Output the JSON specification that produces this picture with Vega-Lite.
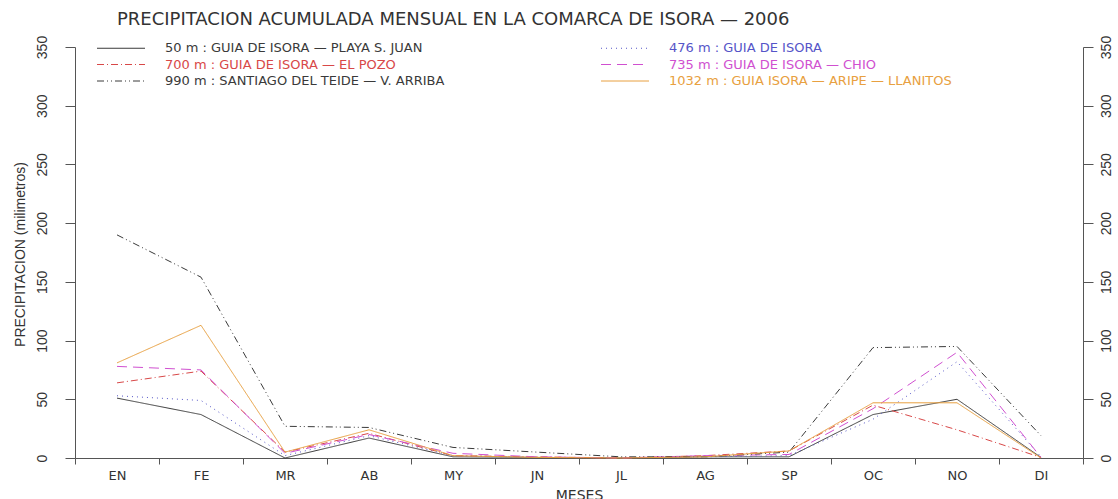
{
  "$schema": "https://vega.github.io/schema/vega-lite/v6.json",
  "autosize": "none",
  "width": 1008,
  "height": 411,
  "padding": {"left": 75, "top": 47, "right": 35, "bottom": 41},
  "background": "white",
  "title": {
    "text": "PRECIPITACION ACUMULADA MENSUAL EN LA COMARCA DE ISORA — 2006",
    "anchor": "start",
    "frame": "group",
    "dx": 42,
    "offset": -8,
    "baseline": "alphabetic",
    "font": "DejaVu Sans",
    "fontSize": 18,
    "fontWeight": "normal",
    "color": "#333333"
  },
  "config": {
    "view": {"stroke": null},
    "axis": {"grid": false, "domainColor": "#555555", "tickColor": "#555555", "labelColor": "#333333", "titleColor": "#333333", "titleFontWeight": "normal"}
  },
  "data": {
    "values": [
      {"mes": "EN", "serie": "s50", "valor": 51},
      {"mes": "FE", "serie": "s50", "valor": 37},
      {"mes": "MR", "serie": "s50", "valor": 0},
      {"mes": "AB", "serie": "s50", "valor": 17},
      {"mes": "MY", "serie": "s50", "valor": 1},
      {"mes": "JN", "serie": "s50", "valor": 0.5},
      {"mes": "JL", "serie": "s50", "valor": 0},
      {"mes": "AG", "serie": "s50", "valor": 1},
      {"mes": "SP", "serie": "s50", "valor": 1},
      {"mes": "OC", "serie": "s50", "valor": 37},
      {"mes": "NO", "serie": "s50", "valor": 50},
      {"mes": "DI", "serie": "s50", "valor": 0.5},
      {"mes": "EN", "serie": "s476", "valor": 53},
      {"mes": "FE", "serie": "s476", "valor": 49},
      {"mes": "MR", "serie": "s476", "valor": 2},
      {"mes": "AB", "serie": "s476", "valor": 19},
      {"mes": "MY", "serie": "s476", "valor": 2},
      {"mes": "JN", "serie": "s476", "valor": 0.5},
      {"mes": "JL", "serie": "s476", "valor": 0},
      {"mes": "AG", "serie": "s476", "valor": 1},
      {"mes": "SP", "serie": "s476", "valor": 2},
      {"mes": "OC", "serie": "s476", "valor": 33},
      {"mes": "NO", "serie": "s476", "valor": 82},
      {"mes": "DI", "serie": "s476", "valor": 1},
      {"mes": "EN", "serie": "s700", "valor": 64},
      {"mes": "FE", "serie": "s700", "valor": 74},
      {"mes": "MR", "serie": "s700", "valor": 5},
      {"mes": "AB", "serie": "s700", "valor": 21},
      {"mes": "MY", "serie": "s700", "valor": 2},
      {"mes": "JN", "serie": "s700", "valor": 1},
      {"mes": "JL", "serie": "s700", "valor": 0},
      {"mes": "AG", "serie": "s700", "valor": 2},
      {"mes": "SP", "serie": "s700", "valor": 6},
      {"mes": "OC", "serie": "s700", "valor": 45},
      {"mes": "NO", "serie": "s700", "valor": 24},
      {"mes": "DI", "serie": "s700", "valor": 0.5},
      {"mes": "EN", "serie": "s735", "valor": 78},
      {"mes": "FE", "serie": "s735", "valor": 75},
      {"mes": "MR", "serie": "s735", "valor": 4},
      {"mes": "AB", "serie": "s735", "valor": 20},
      {"mes": "MY", "serie": "s735", "valor": 4},
      {"mes": "JN", "serie": "s735", "valor": 1},
      {"mes": "JL", "serie": "s735", "valor": 0},
      {"mes": "AG", "serie": "s735", "valor": 2},
      {"mes": "SP", "serie": "s735", "valor": 3},
      {"mes": "OC", "serie": "s735", "valor": 42},
      {"mes": "NO", "serie": "s735", "valor": 90},
      {"mes": "DI", "serie": "s735", "valor": 0.5},
      {"mes": "EN", "serie": "s990", "valor": 190},
      {"mes": "FE", "serie": "s990", "valor": 154},
      {"mes": "MR", "serie": "s990", "valor": 27},
      {"mes": "AB", "serie": "s990", "valor": 26},
      {"mes": "MY", "serie": "s990", "valor": 9},
      {"mes": "JN", "serie": "s990", "valor": 5},
      {"mes": "JL", "serie": "s990", "valor": 1},
      {"mes": "AG", "serie": "s990", "valor": 1},
      {"mes": "SP", "serie": "s990", "valor": 5},
      {"mes": "OC", "serie": "s990", "valor": 94},
      {"mes": "NO", "serie": "s990", "valor": 95},
      {"mes": "DI", "serie": "s990", "valor": 19},
      {"mes": "EN", "serie": "s1032", "valor": 81},
      {"mes": "FE", "serie": "s1032", "valor": 113},
      {"mes": "MR", "serie": "s1032", "valor": 5},
      {"mes": "AB", "serie": "s1032", "valor": 24},
      {"mes": "MY", "serie": "s1032", "valor": 2},
      {"mes": "JN", "serie": "s1032", "valor": 0.5},
      {"mes": "JL", "serie": "s1032", "valor": 0},
      {"mes": "AG", "serie": "s1032", "valor": 1},
      {"mes": "SP", "serie": "s1032", "valor": 6},
      {"mes": "OC", "serie": "s1032", "valor": 47},
      {"mes": "NO", "serie": "s1032", "valor": 47},
      {"mes": "DI", "serie": "s1032", "valor": 0}
    ]
  },
  "resolve": {"scale": {"y": "shared"}, "axis": {"y": "independent"}},
  "layer": [
    {
      "mark": {"type": "line", "strokeWidth": 1},
      "encoding": {
        "x": {
          "field": "mes",
          "type": "ordinal",
          "bandPosition": 0.5,
          "sort": ["EN", "FE", "MR", "AB", "MY", "JN", "JL", "AG", "SP", "OC", "NO", "DI"],
          "scale": {"type": "band", "paddingInner": 0, "paddingOuter": 0},
          "axis": {
            "title": "MESES",
            "tickBand": "extent",
            "labelAngle": 0,
            "tickSize": 6,
            "labelPadding": 5,
            "labelFont": "DejaVu Sans",
            "labelFontSize": 13,
            "titleFont": "DejaVu Sans",
            "titleFontSize": 14,
            "titlePadding": 6
          }
        },
        "y": {
          "field": "valor",
          "type": "quantitative",
          "scale": {"domain": [0, 350], "nice": false},
          "axis": {
            "orient": "left",
            "values": [0, 50, 100, 150, 200, 250, 300, 350],
            "tickSize": 10,
            "labelAngle": 270,
            "labelAlign": "center",
            "labelBaseline": "bottom",
            "labelPadding": 16,
            "labelFont": "Liberation Sans",
            "labelFontSize": 14,
            "title": "PRECIPITACION (milimetros)",
            "titleFont": "Liberation Sans",
            "titleFontSize": 14,
            "titleAngle": 270,
            "titleAlign": "center",
            "titleBaseline": "middle",
            "titleX": -55,
            "titleY": 207
          }
        },
        "color": {
          "field": "serie",
          "type": "nominal",
          "scale": {
            "domain": ["s50", "s476", "s700", "s735", "s990", "s1032"],
            "range": ["#3a3a3a", "#5555c8", "#d84848", "#d050d0", "#3a3a3a", "#e8a040"]
          },
          "legend": {
            "orient": "none",
            "direction": "horizontal",
            "legendX": 37.5,
            "legendY": -7.5,
            "columns": 2,
            "columnPadding": 154,
            "rowPadding": 0.5,
            "padding": 0,
            "title": null,
            "symbolType": "M-3,0H3",
            "symbolSize": 256,
            "symbolStrokeWidth": 1,
            "symbolFillColor": "transparent",
            "labelFont": "DejaVu Sans",
            "labelFontSize": 13,
            "labelOffset": 35.5,
            "labelLimit": 0,
            "labelExpr": "{'s50': '\u00a050 m : GUIA DE ISORA — PLAYA S. JUAN', 's476': '476 m : GUIA DE ISORA', 's700': '700 m : GUIA DE ISORA — EL POZO', 's735': '\u00a0\u00a0735 m : GUIA DE ISORA — CHIO', 's990': '990 m : SANTIAGO DEL TEIDE — V. ARRIBA', 's1032': '1032 m : GUIA ISORA — ARIPE — LLANITOS'}[datum.value]",
            "encode": {"labels": {"update": {"fill": {"scale": "color", "field": "value"}}}}
          }
        },
        "strokeDash": {
          "field": "serie",
          "type": "nominal",
          "scale": {
            "domain": ["s50", "s476", "s700", "s735", "s990", "s1032"],
            "range": [[1, 0], [1, 4], [7, 3, 1, 3], [10, 6], [7, 3, 1, 3, 1, 3], [1, 0]]
          },
          "legend": null
        }
      }
    },
    {
      "mark": {"type": "point", "opacity": 0},
      "encoding": {
        "x": {"field": "mes", "type": "ordinal", "bandPosition": 0.5, "sort": ["EN", "FE", "MR", "AB", "MY", "JN", "JL", "AG", "SP", "OC", "NO", "DI"]},
        "y": {
          "field": "valor",
          "type": "quantitative",
          "axis": {
            "orient": "right",
            "values": [0, 50, 100, 150, 200, 250, 300, 350],
            "tickSize": 10,
            "labelAngle": 270,
            "labelAlign": "center",
            "labelBaseline": "top",
            "labelPadding": 6,
            "labelFont": "Liberation Sans",
            "labelFontSize": 14,
            "title": null
          }
        }
      }
    }
  ]
}
